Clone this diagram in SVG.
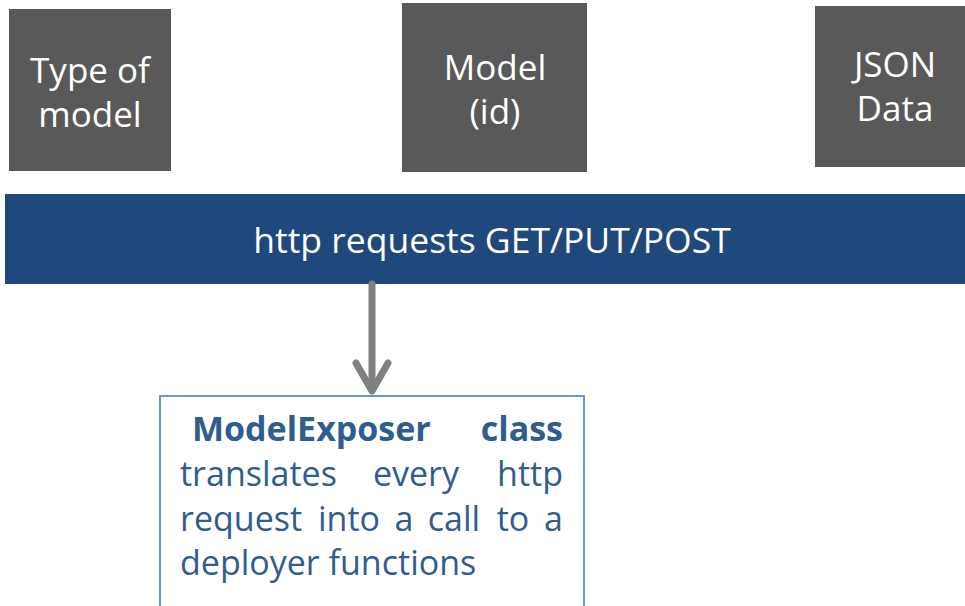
<svg xmlns="http://www.w3.org/2000/svg" width="965" height="606" viewBox="0 0 965 606">
<defs>
<style>
.dark{fill:#595959}
.wt{fill:#ffffff;font-family:"Open Sans","Noto Sans",sans-serif;font-size:35px;text-anchor:middle}
.bar{fill:#1f497d}
.bt{fill:#ffffff;font-family:"Open Sans","Noto Sans",sans-serif;font-size:35.5px;text-anchor:middle}
.cls{fill:#ffffff;stroke:#6a98cc;stroke-width:2}
.ct{fill:#2f5d90;font-family:"Open Sans","Noto Sans",sans-serif;font-size:34px}
.b{font-weight:bold}
.conn{fill:none;stroke:#808080;stroke-width:7;stroke-linecap:round;stroke-linejoin:round}
</style>
</defs>
<g id="type-of-model">
<rect class="dark" x="9" y="9" width="162" height="162"/>
<text class="wt" x="90" y="83">Type of</text>
<text class="wt" x="90" y="127">model</text>
</g>
<g id="model-id">
<rect class="dark" x="402" y="3" width="185" height="169"/>
<text class="wt" x="495" y="80">Model</text>
<text class="wt" x="495" y="124">(id)</text>
</g>
<g id="json-data">
<rect class="dark" x="815" y="6" width="150" height="161"/>
<text class="wt" x="895" y="77">JSON</text>
<text class="wt" x="895" y="121">Data</text>
</g>
<g id="http-requests">
<rect class="bar" x="5" y="194" width="960" height="90"/>
<text class="bt" x="492" y="253">http requests GET/PUT/POST</text>
</g>
<g id="connectors">
<line class="conn" x1="372" y1="284" x2="372" y2="390"/>
<polyline class="conn" points="356,363 372,391 388,363"/>
</g>
<g id="model-exposer">
<rect class="cls" x="160" y="396" width="424" height="220"/>
<text class="ct b" x="192" y="441">ModelExposer</text>
<text class="ct b" x="563" y="441" text-anchor="end">class</text>
<text class="ct" x="180" y="486">translates</text>
<text class="ct" x="416" y="486" text-anchor="middle">every</text>
<text class="ct" x="563" y="486" text-anchor="end">http</text>
<text class="ct" x="180" y="531">request</text>
<text class="ct" x="349" y="531" text-anchor="middle">into</text>
<text class="ct" x="404" y="531" text-anchor="middle">a</text>
<text class="ct" x="454" y="531" text-anchor="middle">call</text>
<text class="ct" x="513" y="531" text-anchor="middle">to</text>
<text class="ct" x="563" y="531" text-anchor="end">a</text>
<text class="ct" x="180" y="575">deployer functions</text>
</g>
</svg>
